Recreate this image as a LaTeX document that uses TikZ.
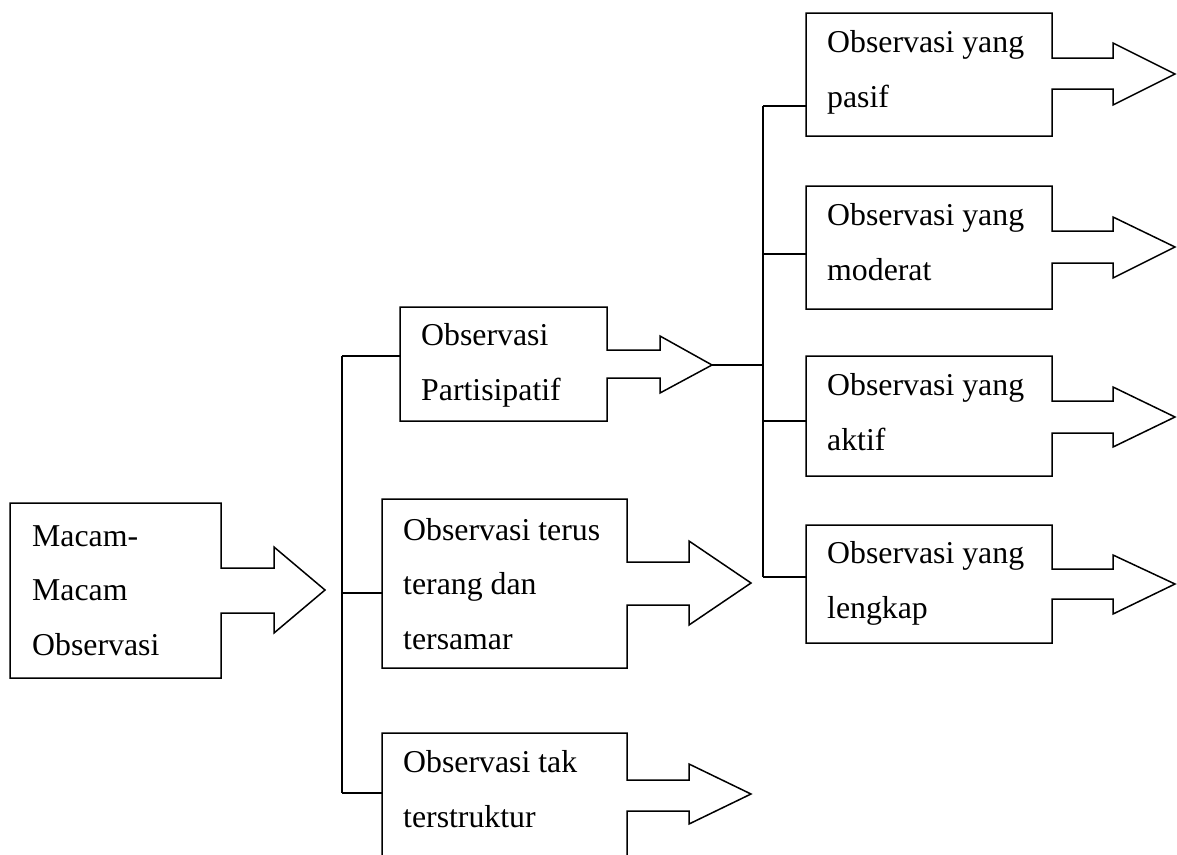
\documentclass[tikz,border=0pt]{standalone}
\usepackage{fontspec}
\setmainfont{Liberation Serif}
\begin{document}
\begin{tikzpicture}[x=1pt,y=-1pt,
  outline/.style={draw=black,line width=1.5pt,line join=miter},
  wire/.style={draw=black,line width=1.5pt},
  lbl/.style={inner sep=0pt,anchor=base west,align=left,font=\fontsize{31.8}{54.5}\selectfont}]
\useasboundingbox (0,0) rectangle (1177,854);
\clip (0,0) rectangle (1177,854);
% A
\draw[outline] (10,503) -- (221,503) -- (221,568) -- (274,568) -- (274,547) -- (325,590) coordinate (tipA) -- (274,633) -- (274,613) -- (221,613) -- (221,678) -- (10,678) -- cycle;
\node[lbl] (tA) at (32,655) {Macam-\\Macam\\Observasi};
% B
\draw[outline] (400,307) -- (607,307) -- (607,350) -- (660,350) -- (660,336) -- (712,365) coordinate (tipB) -- (660,393) -- (660,378) -- (607,378) -- (607,421) -- (400,421) -- cycle;
\node[lbl] (tB) at (421,400) {Observasi\\Partisipatif};
% C
\draw[outline] (382,499) -- (627,499) -- (627,562) -- (689,562) -- (689,541) -- (751,583) coordinate (tipC) -- (689,625) -- (689,605) -- (627,605) -- (627,668) -- (382,668) -- cycle;
\node[lbl] (tC) at (403,649) {Observasi terus\\terang dan\\tersamar};
% D
\draw[outline] (382,860) -- (382,733) -- (627,733) -- (627,780) -- (689,780) -- (689,764) -- (751,794) coordinate (tipD) -- (689,824) -- (689,811) -- (627,811) -- (627,860);
\node[lbl] (tD) at (403,827) {Observasi tak\\terstruktur};
% E
\draw[outline] (806,13) -- (1052,13) -- (1052,58) -- (1113,58) -- (1113,43) -- (1175,74) coordinate (tipE) -- (1113,105) -- (1113,89) -- (1052,89) -- (1052,136) -- (806,136) -- cycle;
\node[lbl] (tE) at (827,107) {Observasi yang\\pasif};
% F
\draw[outline] (806,186) -- (1052,186) -- (1052,231) -- (1113,231) -- (1113,217) -- (1175,247) coordinate (tipF) -- (1113,278) -- (1113,263) -- (1052,263) -- (1052,309) -- (806,309) -- cycle;
\node[lbl] (tF) at (827,280) {Observasi yang\\moderat};
% G
\draw[outline] (806,356) -- (1052,356) -- (1052,401) -- (1113,401) -- (1113,387) -- (1175,417) coordinate (tipG) -- (1113,447) -- (1113,433) -- (1052,433) -- (1052,476) -- (806,476) -- cycle;
\node[lbl] (tG) at (827,450) {Observasi yang\\aktif};
% H
\draw[outline] (806,525) -- (1052,525) -- (1052,569) -- (1113,569) -- (1113,555) -- (1175,584) coordinate (tipH) -- (1113,614) -- (1113,599) -- (1052,599) -- (1052,643) -- (806,643) -- cycle;
\node[lbl] (tH) at (827,618) {Observasi yang\\lengkap};
% left trunk
\coordinate (L1) at (342,356);
\coordinate (L2) at (342,593);
\coordinate (L3) at (342,793);
\draw[wire] (L1) -- (L3);
\draw[wire] (L1) -- (400,356);
\draw[wire] (L2) -- (382,593);
\draw[wire] (L3) -- (382,793);
% right trunk
\coordinate (R0) at (763,365);
\coordinate (R1) at (763,106);
\coordinate (R2) at (763,254);
\coordinate (R3) at (763,421);
\coordinate (R4) at (763,577);
\draw[wire] (tipB) -- (R0);
\draw[wire] (R1) -- (R4);
\draw[wire] (R1) -- (806,106);
\draw[wire] (R2) -- (806,254);
\draw[wire] (R3) -- (806,421);
\draw[wire] (R4) -- (806,577);
\end{tikzpicture}
\end{document}
